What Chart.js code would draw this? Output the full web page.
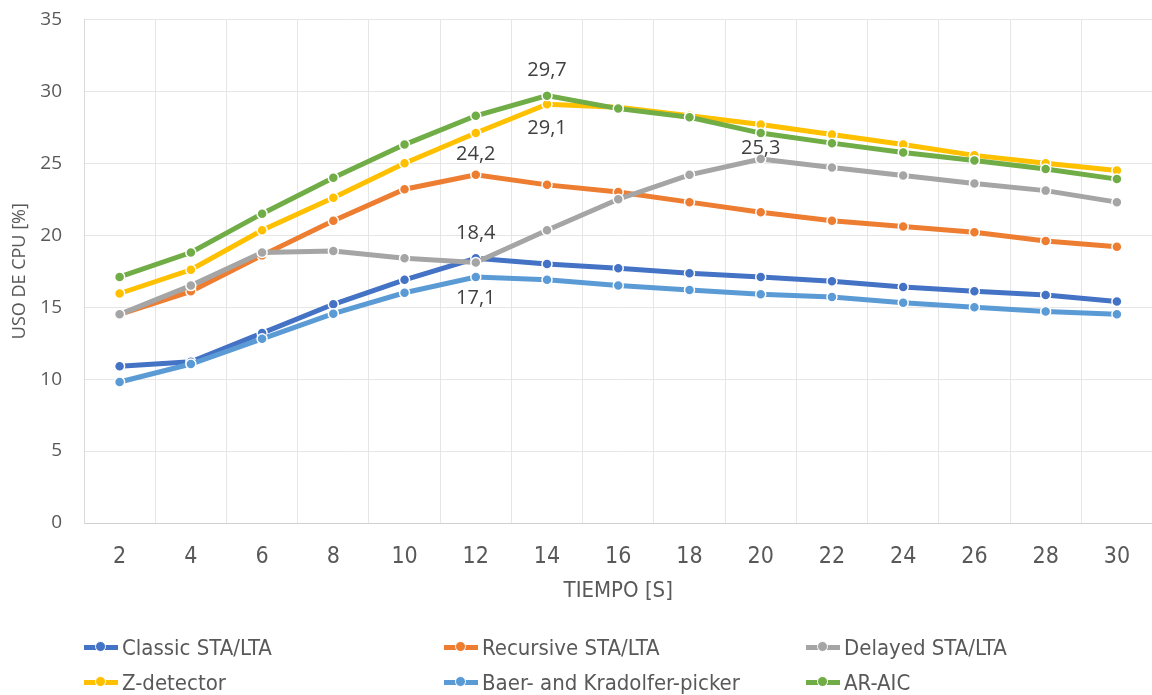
<!DOCTYPE html>
<html>
<head>
<meta charset="utf-8">
<script src="https://cdn.jsdelivr.net/npm/chart.js@4/dist/chart.umd.min.js"></script>
<style>
  html, body { margin: 0; padding: 0; background: #fff; }
  #wrap { position: relative; width: 1152px; height: 695px; overflow: hidden; }
  #box { position: absolute; left: 0; top: -14px; width: 1159px; height: 624px; }
  #legend { position: absolute; left: 0; top: 0; width: 1152px; height: 695px; pointer-events: none; }
  .item { position: absolute; display: flex; align-items: center; height: 30px;
          font-family: "Liberation Sans Narrow", "DejaVu Sans Condensed", sans-serif;
          font-size: 22px; color: #595959; white-space: nowrap; }
  .mk { position: relative; width: 34px; height: 10px; margin-right: 4px; }
  .mk .ln { position: absolute; left: 0; right: 0; top: 3px; height: 5px; }
  .mk .dt { position: absolute; left: 11px; top: -1px; width: 9px; height: 9px; border-radius: 50%;
            border: 1.5px solid #fff; }
</style>
</head>
<body>
<div id="wrap">
  <div id="box"><canvas id="chart"></canvas></div>
  <div id="legend"></div>
</div>
<script>
// Sampling time (s)
const tiempo = [2, 4, 6, 8, 10, 12, 14, 16, 18, 20, 22, 24, 26, 28, 30];

// CPU usage (%) per detection algorithm
const classicStaLta   = [10.9, 11.2, 13.2, 15.2, 16.9, 18.4, 18.0, 17.7, 17.35, 17.1, 16.8, 16.4, 16.1, 15.85, 15.4];
const recursiveStaLta = [14.5, 16.1, 18.6, 21.0, 23.2, 24.2, 23.5, 23.0, 22.3, 21.6, 21.0, 20.6, 20.2, 19.6, 19.2];
const delayedStaLta   = [14.5, 16.5, 18.8, 18.9, 18.4, 18.1, 20.35, 22.5, 24.2, 25.3, 24.7, 24.15, 23.6, 23.1, 22.3];
const zDetector       = [15.95, 17.6, 20.35, 22.6, 25.0, 27.1, 29.1, 28.9, 28.3, 27.7, 27.0, 26.3, 25.55, 25.0, 24.5];
const baerKradolfer   = [9.8, 11.05, 12.8, 14.55, 16.0, 17.1, 16.9, 16.5, 16.2, 15.9, 15.7, 15.3, 15.0, 14.7, 14.5];
const arAic           = [17.1, 18.8, 21.5, 24.0, 26.3, 28.3, 29.7, 28.8, 28.2, 27.1, 26.4, 25.75, 25.2, 24.6, 23.9];

// Y axis ticks
const yTicks = [0, 5, 10, 15, 20, 25, 30, 35];

const seriesNames = ['Classic STA/LTA', 'Recursive STA/LTA', 'Delayed STA/LTA',
                     'Z-detector', 'Baer- and Kradolfer-picker', 'AR-AIC'];
const seriesData = [classicStaLta, recursiveStaLta, delayedStaLta, zDetector, baerKradolfer, arAic];
const seriesColors = ['#4472C4', '#ED7D31', '#A5A5A5', '#FFC000', '#5B9BD5', '#70AD47'];

// Points that carry a value label: [series index, point index, vertical offset in px]
const valueLabels = [
  [5, 6, -25],
  [3, 6, 24],
  [1, 5, -20],
  [0, 5, -25],
  [4, 5, 21],
  [2, 9, -11]
];

const datasets = seriesData.map((d, i) => ({
  label: seriesNames[i],
  data: d,
  borderColor: seriesColors[i],
  backgroundColor: seriesColors[i],
  pointBackgroundColor: seriesColors[i],
  pointBorderColor: '#ffffff',
  pointBorderWidth: 1.5,
  pointRadius: 5,
  borderWidth: 5,
  tension: 0,
  order: seriesData.length - i   // later series drawn on top
}));

const valueLabelPlugin = {
  id: 'valueLabels',
  afterDatasetsDraw(chart) {
    const ctx = chart.ctx;
    ctx.save();
    ctx.font = '20px "Open Sans", sans-serif';
    ctx.fillStyle = '#404040';
    ctx.textAlign = 'center';
    ctx.textBaseline = 'middle';
    valueLabels.forEach(([s, p, dy]) => {
      const pt = chart.getDatasetMeta(s).data[p];
      const v = chart.data.datasets[s].data[p];
      const txt = v.toFixed(1).replace('.', ',');
      ctx.fillText(txt, pt.x, pt.y + dy);
    });
    ctx.restore();
  }
};

const chart = new Chart(document.getElementById('chart'), {
  type: 'line',
  data: { labels: tiempo, datasets },
  options: {
    responsive: true,
    maintainAspectRatio: false,
    animation: false,
    layout: { padding: { top: 5, right: 0, left: 0, bottom: 0 } },
    plugins: { legend: { display: false }, tooltip: { enabled: false } },
    scales: {
      x: {
        type: 'category',
        offset: true,
        grid: { offset: true, color: '#E6E6E6', lineWidth: 1, drawTicks: false },
        border: { color: '#D0D0D0', width: 1 },
        ticks: {
          padding: 20,
          color: '#595959',
          font: { family: '"Liberation Sans Narrow", "DejaVu Sans Condensed", sans-serif', size: 23 }
        },
        title: {
          display: true,
          text: 'TIEMPO [S]',
          color: '#595959',
          padding: { top: 10, bottom: 6 },
          font: { family: '"Liberation Sans Narrow", "DejaVu Sans Condensed", sans-serif', size: 22 }
        },
        afterFit(scale) { scale.height = 87; }
      },
      y: {
        min: 0,
        max: 35,
        afterBuildTicks(scale) { scale.ticks = yTicks.map(v => ({ value: v })); },
        grid: { color: '#E6E6E6', lineWidth: 1, drawTicks: false },
        border: { color: '#D9D9D9', width: 1 },
        ticks: {
          padding: 22,
          color: '#595959',
          font: { family: '"Open Sans", sans-serif', size: 19 }
        },
        title: {
          display: true,
          text: 'USO DE CPU [%]',
          color: '#595959',
          padding: { top: 9, bottom: 0 },
          font: { family: '"Open Sans", sans-serif', size: 18 }
        },
        afterFit(scale) { scale.width = 84; }
      }
    }
  },
  plugins: [valueLabelPlugin]
});

// Legend laid out in three columns, two rows
const legendCols = [84, 444, 806];
const legendRows = [632, 667];
const legendEl = document.getElementById('legend');
chart.data.datasets.forEach((ds, i) => {
  const item = document.createElement('div');
  item.className = 'item';
  item.style.left = legendCols[i % 3] + 'px';
  item.style.top = legendRows[Math.floor(i / 3)] + 'px';
  const mk = document.createElement('span');
  mk.className = 'mk';
  const ln = document.createElement('span');
  ln.className = 'ln';
  ln.style.background = ds.borderColor;
  const dt = document.createElement('span');
  dt.className = 'dt';
  dt.style.background = ds.borderColor;
  mk.appendChild(ln);
  mk.appendChild(dt);
  const tx = document.createElement('span');
  tx.textContent = ds.label;
  item.appendChild(mk);
  item.appendChild(tx);
  legendEl.appendChild(item);
});
</script>
</body>
</html>
